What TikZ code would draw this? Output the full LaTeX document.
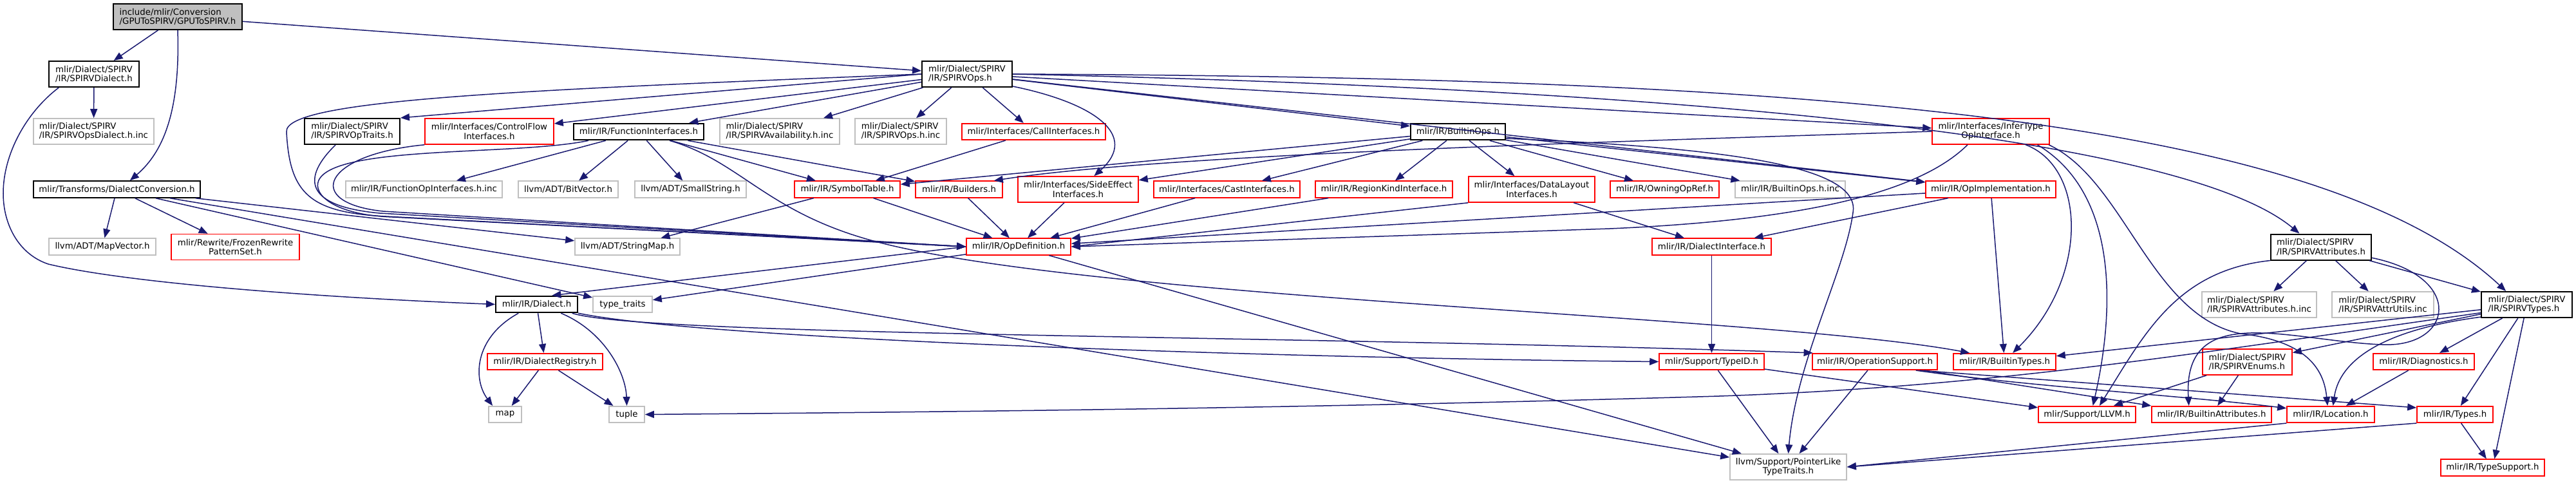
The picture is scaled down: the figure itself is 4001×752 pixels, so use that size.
\documentclass[tikz,border=0pt]{standalone}
\usepackage{fontspec}
\setmainfont{DejaVu Sans}
\usetikzlibrary{arrows.meta}
\definecolor{edgeblue}{HTML}{191970}
\definecolor{boxred}{HTML}{FF0000}
\definecolor{boxgray}{HTML}{BFBFBF}

\begin{document}
\begin{tikzpicture}[x=0.5pt,y=-0.5pt,
  filebox/.style={rectangle,inner sep=0pt,align=center,minimum height=12.75pt,
    font=\fontsize{6.67pt}{7.15pt}\selectfont,line width=0.8pt,fill=white},
  twoline/.style={minimum height=20pt},
  lft/.style={align=left},
  wd/.style={minimum width=#1*0.5pt},
  rootbox/.style={filebox,draw=black,fill=boxgray},
  docbox/.style={filebox,draw=black,line width=1pt},
  redbox/.style={filebox,draw=boxred},
  graybox/.style={filebox,draw=boxgray},
  dep/.style={draw=edgeblue,line width=0.75pt,-{Triangle[length=7pt,width=5.5pt]}}]
  \useasboundingbox (0,0) rectangle (4001,752);

  \node[rootbox,twoline,lft,wd=200] (root) at (276,26) {include/mlir/Conversion\\/GPUToSPIRV/GPUToSPIRV.h};
  \node[docbox,twoline,lft,wd=140] (spvDialect) at (146,115) {mlir/Dialect/SPIRV\\/IR/SPIRVDialect.h};
  \node[graybox,twoline,lft,wd=187] (spvOpsDialectInc) at (145.5,204) {mlir/Dialect/SPIRV\\/IR/SPIRVOpsDialect.h.inc};
  \node[docbox,wd=259] (dialectConv) at (181.5,294) {mlir/Transforms/DialectConversion.h};
  \node[graybox,wd=166] (mapVector) at (159,383) {llvm/ADT/MapVector.h};
  \node[redbox,twoline,wd=199] (frozenPatterns) at (365.5,383.5) {mlir/Rewrite/FrozenRewrite\\PatternSet.h};
  \node[docbox,twoline,lft,wd=148] (spvOpTraits) at (547,204) {mlir/Dialect/SPIRV\\/IR/SPIRVOpTraits.h};
  \node[redbox,twoline,wd=200] (controlFlow) at (760,204) {mlir/Interfaces/ControlFlow\\Interfaces.h};
  \node[graybox,wd=243] (funcOpInc) at (658.5,294) {mlir/IR/FunctionOpInterfaces.h.inc};
  \node[docbox,wd=202] (funcIfc) at (992,204.5) {mlir/IR/FunctionInterfaces.h};
  \node[graybox,twoline,lft,wd=186] (spvAvailInc) at (1211,204) {mlir/Dialect/SPIRV\\/IR/SPIRVAvailability.h.inc};
  \node[graybox,twoline,lft,wd=142] (spvOpsInc) at (1399,204) {mlir/Dialect/SPIRV\\/IR/SPIRVOps.h.inc};
  \node[graybox,wd=155] (bitVector) at (882.5,294) {llvm/ADT/BitVector.h};
  \node[graybox,wd=173] (smallString) at (1072.5,294) {llvm/ADT/SmallString.h};
  \node[redbox,wd=164] (symbolTable) at (1316,294) {mlir/IR/SymbolTable.h};
  \node[graybox,wd=163] (stringMap) at (974.5,383) {llvm/ADT/StringMap.h};
  \node[docbox,wd=127] (dialect) at (833.5,472.5) {mlir/IR/Dialect.h};
  \node[graybox,wd=92] (typeTraits) at (967,472.5) {type\_traits};
  \node[redbox,wd=179] (dialectReg) at (846.5,561.5) {mlir/IR/DialectRegistry.h};
  \node[graybox,wd=51] (stdMap) at (784.5,643.5) {map};
  \node[graybox,wd=55] (stdTuple) at (973.5,643.5) {tuple};
  \node[docbox,twoline,lft,wd=140] (spvOps) at (1502,115) {mlir/Dialect/SPIRV\\/IR/SPIRVOps.h};
  \node[redbox,wd=223] (callIfc) at (1605.5,204.5) {mlir/Interfaces/CallInterfaces.h};
  \node[redbox,wd=135] (builders) at (1489.5,294) {mlir/IR/Builders.h};
  \node[redbox,twoline,wd=187] (sideEffect) at (1674.5,294) {mlir/Interfaces/SideEffect\\Interfaces.h};
  \node[redbox,wd=227] (castIfc) at (1905.5,294) {mlir/Interfaces/CastInterfaces.h};
  \node[redbox,wd=162] (opDef) at (1582,383) {mlir/IR/OpDefinition.h};
  \node[docbox,wd=147] (builtinOps) at (2264.5,204.5) {mlir/IR/BuiltinOps.h};
  \node[redbox,wd=213] (regionKind) at (2149.5,294) {mlir/IR/RegionKindInterface.h};
  \node[redbox,twoline,wd=196] (dataLayout) at (2379,294) {mlir/Interfaces/DataLayout\\Interfaces.h};
  \node[redbox,wd=169] (owningOpRef) at (2585.5,294) {mlir/IR/OwningOpRef.h};
  \node[graybox,wd=171] (builtinOpsInc) at (2780.5,294) {mlir/IR/BuiltinOps.h.inc};
  \node[redbox,wd=185] (dialectIfc) at (2658.5,383) {mlir/IR/DialectInterface.h};
  \node[redbox,wd=163] (typeId) at (2658.5,561.5) {mlir/Support/TypeID.h};
  \node[graybox,twoline,wd=181] (ptrLike) at (2777.5,725) {llvm/Support/PointerLike\\TypeTraits.h};
  \node[redbox,twoline,wd=182] (inferType) at (3092,204) {mlir/Interfaces/InferType\\OpInterface.h};
  \node[redbox,wd=202] (opImpl) at (3092,294) {mlir/IR/OpImplementation.h};
  \node[redbox,wd=194] (opSupport) at (2912,561.5) {mlir/IR/OperationSupport.h};
  \node[redbox,wd=159] (builtinTypes) at (3113.5,561.5) {mlir/IR/BuiltinTypes.h};
  \node[redbox,wd=151] (supportLlvm) at (3241.5,643.5) {mlir/Support/LLVM.h};
  \node[redbox,wd=186] (builtinAttrs) at (3435,643.5) {mlir/IR/BuiltinAttributes.h};
  \node[docbox,twoline,lft,wd=156] (spvAttrs) at (3605,383.5) {mlir/Dialect/SPIRV\\/IR/SPIRVAttributes.h};
  \node[graybox,twoline,lft,wd=178] (spvAttrsInc) at (3509,473) {mlir/Dialect/SPIRV\\/IR/SPIRVAttributes.h.inc};
  \node[graybox,twoline,lft,wd=158] (spvAttrUtils) at (3701,473) {mlir/Dialect/SPIRV\\/IR/SPIRVAttrUtils.inc};
  \node[docbox,twoline,lft,wd=141] (spvTypes) at (3924.5,473) {mlir/Dialect/SPIRV\\/IR/SPIRVTypes.h};
  \node[redbox,twoline,lft,wd=139] (spvEnums) at (3490.5,562) {mlir/Dialect/SPIRV\\/IR/SPIRVEnums.h};
  \node[redbox,wd=157] (diagnostics) at (3764.5,561.5) {mlir/IR/Diagnostics.h};
  \node[redbox,wd=136] (location) at (3620,643.5) {mlir/IR/Location.h};
  \node[redbox,wd=118] (irTypes) at (3813,643.5) {mlir/IR/Types.h};
  \node[redbox,wd=161] (typeSupport) at (3871.5,726) {mlir/IR/TypeSupport.h};

  \draw[dep] (root) -- (spvDialect);
  \draw[dep] (root.south) .. controls (280,170) and (255,235) .. (dialectConv.34);
  \draw[dep] (root) -- (spvOps);
  \draw[dep] (spvDialect) -- (spvOpsDialectInc);
  \draw[dep] (spvDialect.201) .. controls (40,175) and (5,240) .. (5,300) .. controls (5,350) and (30,395) .. (75,410) .. controls (200,440) and (500,462) .. (dialect.west);
  \draw[dep] (dialectConv) -- (mapVector);
  \draw[dep] (dialectConv) -- (frozenPatterns);
  \draw[dep] (dialectConv) -- (typeTraits);
  \draw[dep] (dialectConv) -- (ptrLike);
  \draw[dep] (dialectConv) -- (stringMap);

  \draw[dep] (spvOps.west) .. controls (800,140) and (440,155) .. (445,205) .. controls (450,300) and (480,330) .. (600,336) -- (opDef.west);
  \draw[dep] (spvOpTraits.219) .. controls (470,275) and (470,320) .. (590,331) -- (opDef.west);
  \draw[dep] (controlFlow.south west) .. controls (500,240) and (470,315) .. (595,328) -- (opDef.west);
  \draw[dep] (funcIfc.190) .. controls (800,242) and (520,225) .. (495,280) .. controls (485,302) and (520,334) .. (610,337) -- (opDef.west);

  \draw[dep] (funcIfc) -- (funcOpInc);
  \draw[dep] (funcIfc) -- (bitVector);
  \draw[dep] (funcIfc) -- (smallString);
  \draw[dep] (funcIfc) -- (symbolTable);
  \draw[dep] (funcIfc) -- (builders);
  \draw[dep] (funcIfc.-16) .. controls (1150,250) and (1190,330) .. (1360,375) .. controls (1700,465) and (2750,490) .. (builtinTypes.166);
  \draw[dep] (symbolTable) -- (stringMap);
  \draw[dep] (symbolTable) -- (opDef);
  \draw[dep] (callIfc) -- (symbolTable);
  \draw[dep] (builders) -- (opDef);
  \draw[dep] (sideEffect) -- (opDef);
  \draw[dep] (castIfc) -- (opDef);

  \draw[dep] (spvOps.west) -- (spvOpTraits.north east);
  \draw[dep] (spvOps) -- (controlFlow);
  \draw[dep] (spvOps) -- (funcIfc);
  \draw[dep] (spvOps) -- (spvAvailInc);
  \draw[dep] (spvOps) -- (spvOpsInc);
  \draw[dep] (spvOps) -- (callIfc);
  \draw[dep] (spvOps.-15) .. controls (1700,160) and (1770,210) .. (sideEffect.40);
  \draw[dep] (spvOps.east) .. controls (2800,120) and (3600,180) .. (spvTypes.147);
  \draw[dep] (spvOps.east) .. controls (2700,140) and (3400,220) .. (spvAttrs.148);
  \draw[dep] (spvOps) -- (inferType);
  \draw[dep] (spvOps) -- (builtinOps);
  \draw[dep] (spvOps) -- (opImpl);

  \draw[dep] (builtinOps) -- (symbolTable);
  \draw[dep] (builtinOps) -- (sideEffect);
  \draw[dep] (builtinOps) -- (castIfc);
  \draw[dep] (builtinOps) -- (regionKind);
  \draw[dep] (builtinOps) -- (dataLayout);
  \draw[dep] (builtinOps) -- (owningOpRef);
  \draw[dep] (builtinOps) -- (builtinOpsInc);
  \draw[dep] (builtinOps) -- (opImpl);
  \draw[dep] (builtinOps.-8) .. controls (2700,230) and (2890,260) .. (2878,330) .. controls (2866,420) and (2790,560) .. (ptrLike.north);
  \draw[dep] (regionKind) -- (opDef);
  \draw[dep] (dataLayout.south west) -- (opDef.east);
  \draw[dep] (dataLayout) -- (dialectIfc);

  \draw[dep] (inferType.west) .. controls (2500,220) and (1800,240) .. (builders.14);
  \draw[dep] (inferType.210) .. controls (2980,300) and (2800,342) .. (2500,355) -- (opDef.east);
  \draw[dep] (inferType.-21) .. controls (3240,260) and (3245,430) .. (builtinTypes.47);
  \draw[dep] (inferType.-16) .. controls (3290,300) and (3285,480) .. (supportLlvm.56);
  \draw[dep] (inferType.-13) .. controls (3300,280) and (3340,490) .. (3480,518) .. controls (3590,530) and (3610,580) .. (location.110);
  \draw[dep] (opImpl) -- (opDef);
  \draw[dep] (opImpl) -- (dialectIfc);
  \draw[dep] (opImpl) -- (builtinTypes);
  \draw[dep] (dialectIfc) -- (typeId);

  \draw[dep] (opDef.west) -- (dialect.30);
  \draw[dep] (opDef) -- (typeTraits);
  \draw[dep] (opDef) -- (ptrLike);
  \draw[dep] (dialect) -- (dialectReg);
  \draw[dep] (dialect.206) .. controls (735,525) and (735,590) .. (stdMap.145);
  \draw[dep] (dialect.-20) .. controls (940,515) and (972,580) .. (stdTuple.north);
  \draw[dep] (dialect.-14) .. controls (1000,522) and (2000,520) .. (opSupport.172);
  \draw[dep] (dialect.-12) .. controls (1100,528) and (2000,556) .. (typeId.west);
  \draw[dep] (dialectReg) -- (stdMap);
  \draw[dep] (dialectReg) -- (stdTuple);
  \draw[dep] (typeId) -- (ptrLike);
  \draw[dep] (typeId) -- (supportLlvm);
  \draw[dep] (opSupport) -- (ptrLike);
  \draw[dep] (opSupport.-10) -- (builtinAttrs.north west);
  \draw[dep] (opSupport.-12) .. controls (3150,600) and (3400,615) .. (location.172);
  \draw[dep] (opSupport.-11) -- (irTypes.170);

  \draw[dep] (spvAttrs) -- (spvAttrsInc);
  \draw[dep] (spvAttrs) -- (spvAttrUtils);
  \draw[dep] (spvAttrs) -- (spvTypes);
  \draw[dep] (spvAttrs.south west) .. controls (3380,420) and (3330,520) .. (supportLlvm.35);
  \draw[dep] (spvAttrs.-12) .. controls (3830,430) and (3810,540) .. (3700,535) .. controls (3560,530) and (3390,465) .. (builtinAttrs.159);
  \draw[dep] (spvTypes) -- (builtinTypes);
  \draw[dep] (spvTypes.190) .. controls (3400,550) and (3100,600) .. (2670,615) .. controls (2000,635) and (1400,640) .. (stdTuple.east);
  \draw[dep] (spvTypes) -- (spvEnums);
  \draw[dep] (spvTypes.195) .. controls (3680,515) and (3632,570) .. (location.75);
  \draw[dep] (spvTypes) -- (diagnostics);
  \draw[dep] (spvTypes) -- (irTypes);
  \draw[dep] (spvTypes) -- (typeSupport);
  \draw[dep] (spvEnums) -- (builtinAttrs);
  \draw[dep] (spvEnums) -- (supportLlvm);
  \draw[dep] (diagnostics) -- (location);
  \draw[dep] (location.south west) -- (ptrLike.east);
  \draw[dep] (irTypes.south west) -- (ptrLike.east);
  \draw[dep] (irTypes) -- (typeSupport);
\end{tikzpicture}
\end{document}
